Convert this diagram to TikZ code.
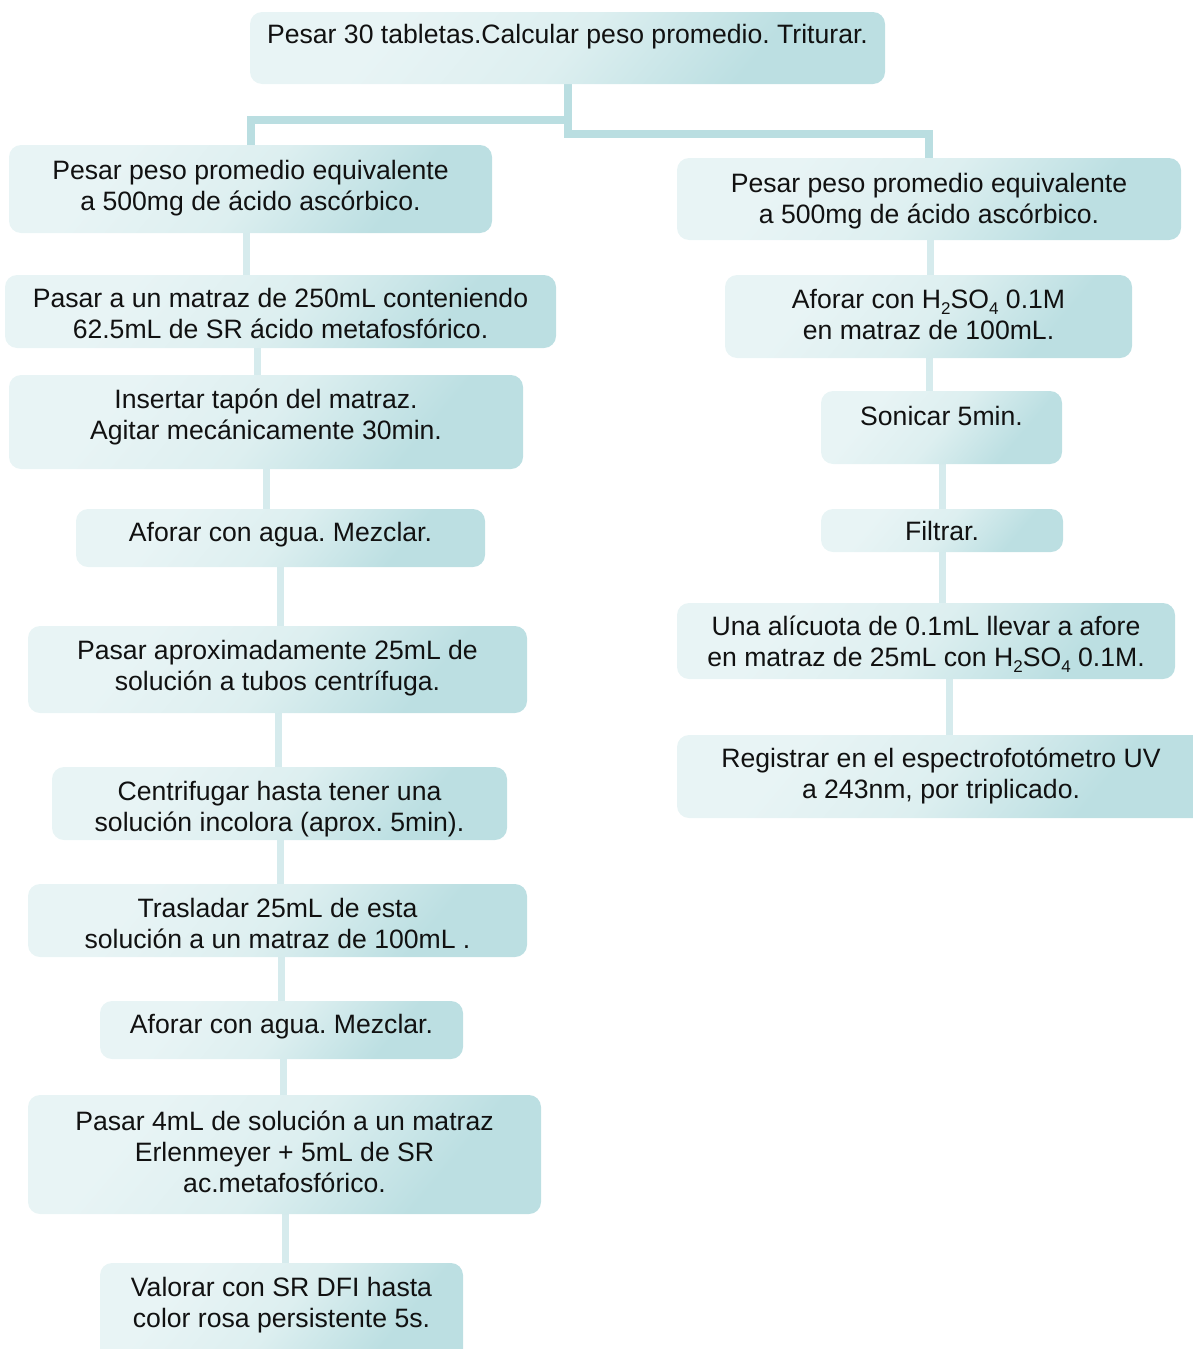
\documentclass[tikz,border=0pt]{standalone}
\usepackage{fontspec}
\setmainfont{Liberation Sans}
\usetikzlibrary{calc}
\definecolor{boxlight}{HTML}{E8F4F5}
\definecolor{boxmid}{HTML}{DDEFF0}
\definecolor{boxdark}{HTML}{BCDFE2}
\definecolor{connA}{HTML}{BADEE1}
\definecolor{connB}{HTML}{D6EBED}
\definecolor{txtc}{HTML}{111111}
\pgfdeclareverticalshading{boxshade}{100bp}{color(0bp)=(boxdark); color(30bp)=(boxdark); color(50bp)=(boxmid); color(70bp)=(boxlight); color(100bp)=(boxlight)}
\pgfdeclarelayer{bg}
\pgfsetlayers{bg,main}
\newcommand\topstrut{\rule{0pt}{25pt}}
\newcommand\lowsub[1]{\raisebox{-0.22em}{\fontsize{17}{17}\selectfont #1}}
\tikzset{
  stepbox/.style={rounded corners=12pt, draw=none, inner sep=0pt,
    shade, shading=boxshade, shading angle=50},
  steptext/.style={inner sep=0pt, align=center, text=txtc,
    font=\fontsize{26.6}{31}\selectfont\frenchspacing},
  topconn/.style={draw=connA, line width=8pt, line join=miter},
  inconn/.style={draw=connB, line width=7pt},
}
% name, x1, y1, x2, y2, first baseline, text
\newcommand\mybox[7]{%
  \node[stepbox, minimum width={#4-#2}, minimum height={#5-#3}] (#1) at ({(#2+#4)/2},{(#3+#5)/2}) {};
  \node[steptext, anchor=north] (#1t) at ({(#2+#4)/2},{#6-25}) {\topstrut #7};
}
\begin{document}
\begin{tikzpicture}[x=1pt,y=-1pt]
\useasboundingbox (0,0) rectangle (1193,1349);
\clip (0,0) rectangle (1193,1349);

\mybox{top}{250}{12}{885}{84}{43}{Pesar 30 tabletas.Calcular peso promedio. Triturar.}

\mybox{L1}{9}{145}{492}{233}{179}{Pesar peso promedio equivalente\\ a 500mg de ácido ascórbico.}
\mybox{L2}{5}{275}{556}{348}{307}{Pasar a un matraz de 250mL conteniendo\\62.5mL de SR ácido metafosfórico.}
\mybox{L3}{9}{375}{523}{469}{408}{Insertar tapón del matraz.\\Agitar mecánicamente 30min.}
\mybox{L4}{76}{509}{485}{567}{541}{Aforar con agua. Mezclar.}
\mybox{L5}{28}{626}{527}{713}{659}{Pasar aproximadamente 25mL de\\solución a tubos centrífuga.}
\mybox{L6}{52}{767}{507}{840}{800}{Centrifugar hasta tener una\\solución incolora (aprox. 5min).}
\mybox{L7}{28}{884}{527}{957}{917}{Trasladar 25mL de esta\\solución a un matraz de 100mL .}
\mybox{L8}{100}{1001}{463}{1059}{1033}{Aforar con agua. Mezclar.}
\mybox{L9}{28}{1095}{541}{1214}{1130}{Pasar 4mL de solución a un matraz\\Erlenmeyer + 5mL de SR\\ac.metafosfórico.}
\mybox{L10}{100}{1263}{463}{1365}{1296}{Valorar con SR DFI hasta\\color rosa persistente 5s.}

\mybox{R1}{677}{158}{1181}{240}{192}{Pesar peso promedio equivalente\\a 500mg de ácido ascórbico.}
\mybox{R2}{725}{275}{1132}{358}{308}{Aforar con H\lowsub{2}SO\lowsub{4} 0.1M\\en matraz de 100mL.}
\mybox{R3}{821}{391}{1062}{464}{425}{Sonicar 5min.}
\mybox{R4}{821}{509}{1063}{552}{540}{Filtrar.}
\mybox{R5}{677}{603}{1175}{679}{635}{Una alícuota de 0.1mL llevar a afore\\en matraz de 25mL con H\lowsub{2}SO\lowsub{4} 0.1M.}
\mybox{R6}{677}{735}{1205}{818}{767}{Registrar en el espectrofotómetro UV\\a 243nm, por triplicado.}

\begin{pgfonlayer}{bg}
  \draw[topconn] (top.south) -- (top.south |- 0,138);
  \draw[topconn] (top.south |- 0,120) -| (L1.north);
  \draw[topconn] (top.south |- 0,134) -| (R1.north);

  \draw[inconn] (L1.south -| 246,0) -- (L2.north -| 246,0);
  \draw[inconn] (L2.south -| 257,0) -- (L3.north -| 257,0);
  \draw[inconn] (L3.south -| 266,0) -- (L4.north -| 266,0);
  \draw[inconn] (L4.south -| 280,0) -- (L5.north -| 280,0);
  \draw[inconn] (L5.south -| 278,0) -- (L6.north -| 278,0);
  \draw[inconn] (L6.south -| 280,0) -- (L7.north -| 280,0);
  \draw[inconn] (L7.south -| 281,0) -- (L8.north -| 281,0);
  \draw[inconn] (L8.south -| 283,0) -- (L9.north -| 283,0);
  \draw[inconn] (L9.south -| 285,0) -- (L10.north -| 285,0);

  \draw[inconn] (R1.south -| 930,0) -- (R2.north -| 930,0);
  \draw[inconn] (R2.south -| 929,0) -- (R3.north -| 929,0);
  \draw[inconn] (R3.south -| 942,0) -- (R4.north -| 942,0);
  \draw[inconn] (R4.south -| 942,0) -- (R5.north -| 942,0);
  \draw[inconn] (R5.south -| 949,0) -- (R6.north -| 949,0);
\end{pgfonlayer}
\end{tikzpicture}
\end{document}
